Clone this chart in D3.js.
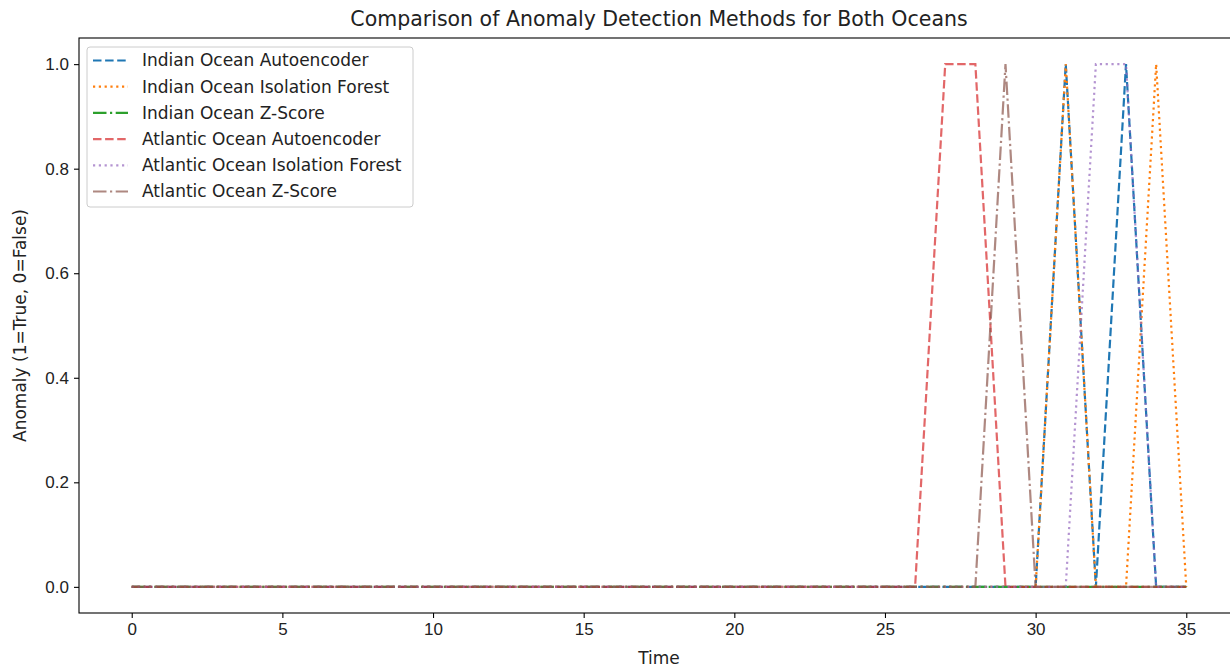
<!DOCTYPE html>
<html>
<head>
<meta charset="utf-8">
<script src="https://cdn.jsdelivr.net/npm/d3@7"></script>
<style>
  body { margin: 0; background: #fff; }
  svg { font-family: "DejaVu Sans", sans-serif; display: block; }
</style>
</head>
<body>
<svg id="chart" width="1230" height="667"></svg>
<script>
// time steps 0..35
var time = d3.range(0, 36);

// anomaly flags (1 = anomaly)
var indianAutoencoder = [0,0,0,0,0,0,0,0,0,0,0,0,0,0,0,0,0,0,0,0,0,0,0,0,0,0,0,0,0,0,0,1,0,1,0,0];
var indianIsolation   = [0,0,0,0,0,0,0,0,0,0,0,0,0,0,0,0,0,0,0,0,0,0,0,0,0,0,0,0,0,0,0,1,0,0,1,0];
var indianZScore      = [0,0,0,0,0,0,0,0,0,0,0,0,0,0,0,0,0,0,0,0,0,0,0,0,0,0,0,0,0,0,0,0,0,0,0,0];
var atlanticAutoencoder = [0,0,0,0,0,0,0,0,0,0,0,0,0,0,0,0,0,0,0,0,0,0,0,0,0,0,0,1,1,0,0,0,0,0,0,0];
var atlanticIsolation   = [0,0,0,0,0,0,0,0,0,0,0,0,0,0,0,0,0,0,0,0,0,0,0,0,0,0,0,0,0,0,0,0,1,1,0,0];
var atlanticZScore      = [0,0,0,0,0,0,0,0,0,0,0,0,0,0,0,0,0,0,0,0,0,0,0,0,0,0,0,0,0,1,0,0,0,0,0,0];

var xTicks = [0, 5, 10, 15, 20, 25, 30, 35];
var yTicks = [0, 0.2, 0.4, 0.6, 0.8, 1.0];

var DASHED = "8.5,3.6", DOTTED = "2.2,3.6", DASHDOT = "13.5,3.5,2.2,3.5";

var series = [
  {name: "Indian Ocean Autoencoder", values: indianAutoencoder, color: "#1f77b4", dash: DASHED, alpha: 1},
  {name: "Indian Ocean Isolation Forest", values: indianIsolation, color: "#ff7f0e", dash: DOTTED, alpha: 1},
  {name: "Indian Ocean Z-Score", values: indianZScore, color: "#2ca02c", dash: DASHDOT, alpha: 1},
  {name: "Atlantic Ocean Autoencoder", values: atlanticAutoencoder, color: "#d62728", dash: DASHED, alpha: 0.7},
  {name: "Atlantic Ocean Isolation Forest", values: atlanticIsolation, color: "#9467bd", dash: DOTTED, alpha: 0.7},
  {name: "Atlantic Ocean Z-Score", values: atlanticZScore, color: "#8c564b", dash: DASHDOT, alpha: 0.7}
];

var FONT = "17px";

var svg = d3.select("#chart"),
    margin = {top: 38, right: -9, bottom: 54, left: 79},
    width = +svg.attr("width") - margin.left - margin.right,
    height = +svg.attr("height") - margin.top - margin.bottom;

var x = d3.scaleLinear().domain([-1.75, 36.75]).range([0, width]),
    y = d3.scaleLinear().domain([-0.05, 1.05]).range([height, 0]);

var g = svg.append("g")
    .attr("transform", "translate(" + margin.left + "," + margin.top + ")");

var line = d3.line()
    .x(function(d, i) { return x(time[i]); })
    .y(function(d) { return y(d); });

g.selectAll(".series")
  .data(series)
  .enter().append("path")
    .attr("class", "series")
    .attr("fill", "none")
    .attr("stroke", function(d) { return d.color; })
    .attr("stroke-opacity", function(d) { return d.alpha; })
    .attr("stroke-width", 2.2)
    .attr("stroke-dasharray", function(d) { return d.dash; })
    .attr("d", function(d) { return line(d.values); });

// axes
var xAxis = g.append("g")
    .attr("transform", "translate(0," + height + ")")
    .call(d3.axisBottom(x).tickValues(xTicks).tickSize(5).tickPadding(5).tickFormat(d3.format("d")));
var yAxis = g.append("g")
    .call(d3.axisLeft(y).tickValues(yTicks).tickSize(5).tickPadding(5).tickFormat(d3.format(".1f")));

[xAxis, yAxis].forEach(function(a) {
  a.select(".domain").remove();
  a.selectAll("line").attr("stroke", "#000").attr("stroke-width", 1.1);
  a.selectAll("text").attr("fill", "#222").style("font-size", FONT);
});

// spines
g.append("rect")
    .attr("x", 0).attr("y", 0)
    .attr("width", width).attr("height", height)
    .attr("fill", "none").attr("stroke", "#000").attr("stroke-width", 1.1);

// title and labels
svg.append("text")
    .attr("x", margin.left + x(17.5)).attr("y", 26)
    .attr("text-anchor", "middle")
    .attr("fill", "#222")
    .style("font-size", "20.5px")
    .text("Comparison of Anomaly Detection Methods for Both Oceans");

svg.append("text")
    .attr("x", margin.left + x(17.5)).attr("y", 664)
    .attr("text-anchor", "middle")
    .attr("fill", "#222")
    .style("font-size", FONT)
    .text("Time");

svg.append("text")
    .attr("transform", "translate(26," + (margin.top + y(0.5)) + ") rotate(-90)")
    .attr("text-anchor", "middle")
    .attr("fill", "#222")
    .style("font-size", FONT)
    .text("Anomaly (1=True, 0=False)");

// legend
var legend = g.append("g").attr("transform", "translate(8,9)");
legend.append("rect")
    .attr("width", 326).attr("height", 160)
    .attr("rx", 3)
    .attr("fill", "#fff").attr("fill-opacity", 0.8)
    .attr("stroke", "#ccc").attr("stroke-width", 1);

var item = legend.selectAll(".item")
  .data(series)
  .enter().append("g")
    .attr("class", "item")
    .attr("transform", function(d, i) { return "translate(0," + (13.5 + i * 26.2) + ")"; });

item.append("line")
    .attr("x1", 6).attr("x2", 41)
    .attr("stroke", function(d) { return d.color; })
    .attr("stroke-opacity", function(d) { return d.alpha; })
    .attr("stroke-width", 2.2)
    .attr("stroke-dasharray", function(d) { return d.dash; });

item.append("text")
    .attr("x", 55).attr("dy", "0.35em")
    .attr("fill", "#222")
    .style("font-size", FONT)
    .text(function(d) { return d.name; });
</script>
</body>
</html>
